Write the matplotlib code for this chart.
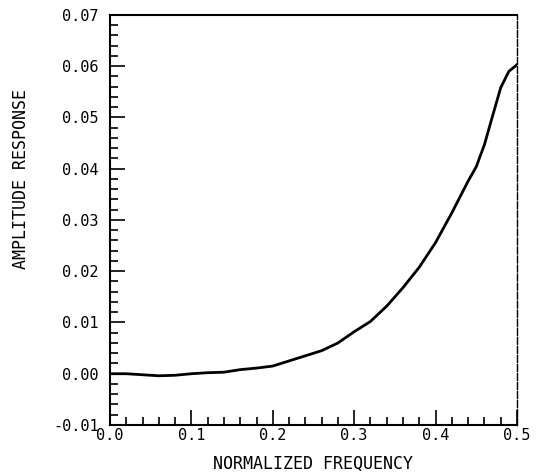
import numpy as np
import matplotlib
matplotlib.use("Agg")
import matplotlib.pyplot as plt
from matplotlib.ticker import MultipleLocator, FormatStrFormatter

# Values
freq = [0.0, 0.02, 0.04, 0.06, 0.08, 0.10, 0.12, 0.14, 0.16, 0.18,
        0.20, 0.22, 0.24, 0.26, 0.28, 0.30, 0.32, 0.34, 0.36, 0.38,
        0.40, 0.42, 0.44, 0.45, 0.46, 0.47, 0.48, 0.49, 0.50]
amp = [0.0, 0.0, -0.0002, -0.0004, -0.0003, 0.0, 0.0002, 0.0003, 0.0008, 0.0011,
       0.0015, 0.0025, 0.0035, 0.0045, 0.0060, 0.0082, 0.0102, 0.0132, 0.0168, 0.0208,
       0.0256, 0.0314, 0.0376, 0.0404, 0.0447, 0.0503, 0.0558, 0.0590, 0.0603]

plt.rcParams['font.family'] = ['DejaVu Sans Mono']

fig = plt.figure(figsize=(5.45, 4.74), dpi=100)
ax = fig.add_axes([0.2018, 0.1034, 0.7468, 0.865])

ax.plot(freq, amp, color="black", linewidth=2.0)

ax.set_xlim(0, 0.5)
ax.set_ylim(-0.01, 0.07)

ax.xaxis.set_major_locator(MultipleLocator(0.1))
ax.xaxis.set_minor_locator(MultipleLocator(0.02))
ax.yaxis.set_major_locator(MultipleLocator(0.01))
ax.yaxis.set_minor_locator(MultipleLocator(0.002))
ax.xaxis.set_major_formatter(FormatStrFormatter('%.1f'))
ax.yaxis.set_major_formatter(FormatStrFormatter('%.2f'))

ax.tick_params(axis='both', which='both', direction='in', top=False, right=False, width=1.2)
ax.tick_params(axis='both', which='major', length=11, labelsize=11)
ax.tick_params(axis='both', which='minor', length=6)
ax.tick_params(axis='y', which='major', pad=8)
ax.tick_params(axis='x', which='major', pad=2)

for side in ['left', 'bottom', 'top']:
    ax.spines[side].set_linewidth(1.5)
ax.spines['right'].set_linewidth(1.0)
ax.spines['right'].set_linestyle((0, (5, 1.5)))

ax.set_xlabel("NORMALIZED FREQUENCY", fontsize=12)
ax.set_ylabel("AMPLITUDE RESPONSE", fontsize=12)
ax.xaxis.set_label_coords(0.5, -0.072)
ax.yaxis.set_label_coords(-0.197, 0.60)

fig.savefig("out.png", dpi=100)
